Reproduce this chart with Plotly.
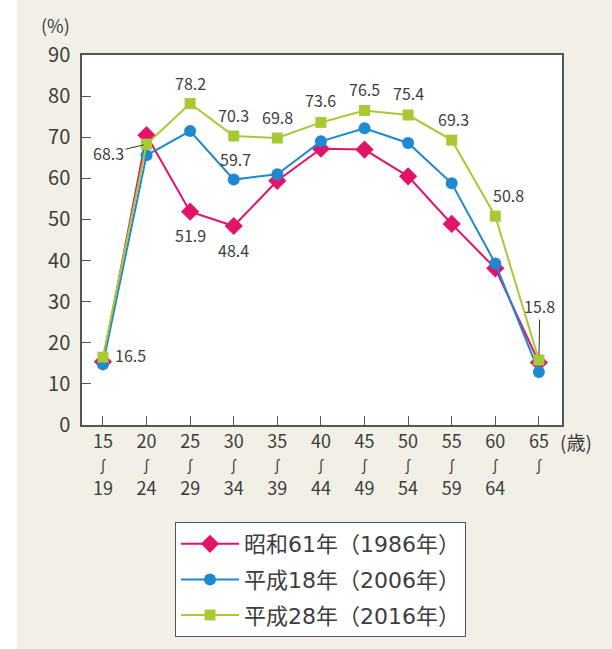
import plotly.graph_objects as go

# Age groups (lower / upper bound) and participation rates (%)
age_low = ["15", "20", "25", "30", "35", "40", "45", "50", "55", "60", "65"]
age_high = ["19", "24", "29", "34", "39", "44", "49", "54", "59", "64", ""]

s1986 = [15.4, 70.5, 51.9, 48.4, 59.4, 67.2, 67.0, 60.5, 48.9, 38.1, 15.2]
s2006 = [14.8, 65.6, 71.5, 59.7, 61.0, 69.0, 72.2, 68.6, 58.8, 39.3, 12.9]
s2016 = [16.5, 68.3, 78.2, 70.3, 69.8, 73.6, 76.5, 75.4, 69.3, 50.8, 15.8]

names = ["昭和61年（1986年）", "平成18年（2006年）", "平成28年（2016年）"]
y_ticks = [0, 10, 20, 30, 40, 50, 60, 70, 80, 90]

FONT = "Noto Sans CJK JP"
LEGEND_FONT = "DejaVu Sans, Noto Sans CJK JP"
TXT = "#3d3d3d"
BG = "#f2f0e6"

xs = list(range(len(age_low)))
wave = "<span style='font-size:15px'>∫</span>"
ticktext = [f"{a}<br>{wave}<br>{b if b else ' '}" for a, b in zip(age_low, age_high)]

fig = go.Figure()
series = [
    (s1986, "#e2146a", "diamond", 14),
    (s2006, "#1f88d0", "circle", 12),
    (s2016, "#a9c934", "square", 11),
]
for i, (vals, col, sym, size) in enumerate(series):
    fig.add_trace(go.Scatter(
        x=xs, y=vals, name=names[i], mode="lines+markers",
        line=dict(color=col, width=2),
        marker=dict(symbol=sym, size=size, color=col),
        legendgroup=f"g{i}", cliponaxis=False,
    ))

# Value labels: (series values, index, dx, dy) in pixels
labels = [
    (s2016, 2, 0, 21), (s2016, 3, 0, 21), (s2016, 4, 0, 21), (s2016, 5, 0, 22),
    (s2016, 6, 0, 22), (s2016, 7, 0, 22), (s2016, 8, 2, 21), (s2016, 9, 13, 21),
    (s2016, 0, 28, 2), (s1986, 2, 0, -23), (s1986, 3, 0, -24), (s2006, 3, 2, 21),
]
for vals, idx, dx, dy in labels:
    fig.add_annotation(x=idx, y=vals[idx], text=f"{vals[idx]:.1f}", showarrow=False,
                       xshift=dx, yshift=dy, font=dict(family=FONT, size=16, color=TXT))

# Labels with leader lines
fig.add_annotation(x=1, y=s2016[1], text=f"{s2016[1]:.1f}", showarrow=True,
                   arrowhead=0, arrowwidth=1, arrowcolor="#333", ax=-38, ay=9,
                   standoff=3, font=dict(family=FONT, size=16, color=TXT))
fig.add_annotation(x=10, y=s2016[10], text=f"{s2016[10]:.1f}", showarrow=True,
                   arrowhead=0, arrowwidth=1, arrowcolor="#333", ax=1, ay=-54,
                   standoff=6, font=dict(family=FONT, size=16, color=TXT))

# Axis unit labels
fig.add_annotation(xref="paper", yref="paper", x=(55 - 82) / 480, y=(425 - 25) / 370,
                   xanchor="center", yanchor="middle", text="(%)",
                   showarrow=False, font=dict(family=FONT, size=18, color=TXT))
fig.add_annotation(xref="paper", yref="paper", x=(576 - 82) / 480, y=(425 - 441) / 370,
                   xanchor="center", yanchor="middle", text="(歳)",
                   showarrow=False, font=dict(family=FONT, size=19, color=TXT))

# White strip on the left edge of the page
fig.add_shape(type="rect", xref="paper", yref="paper", x0=-82 / 480, x1=-65 / 480,
              y0=-224 / 370, y1=1 + 55 / 370, fillcolor="white", line_width=0, layer="below")

fig.update_layout(
    width=612, height=649,
    margin=dict(l=82, r=50, t=55, b=224),
    paper_bgcolor=BG, plot_bgcolor="white",
    font=dict(family=FONT, color=TXT),
    showlegend=True,
    legend=dict(x=(175 - 82) / 480, y=(425 - 522) / 370, xanchor="left", yanchor="top",
                bgcolor="white", bordercolor="#555", borderwidth=1,
                font=dict(family=LEGEND_FONT, size=22, color=TXT),
                itemwidth=58, traceorder="grouped", tracegroupgap=4),
    xaxis=dict(range=[-0.48, 10.53], tickvals=xs, ticktext=ticktext,
               showgrid=False, zeroline=False, showline=True, linecolor="#555",
               linewidth=1.5, mirror=True, ticks="inside", ticklen=9, tickcolor="#555",
               tickfont=dict(family=FONT, size=18, color=TXT)),
    yaxis=dict(range=[0, 90], tickvals=y_ticks, showgrid=False, zeroline=False,
               showline=True, linecolor="#555", linewidth=1.5, mirror=True,
               ticks="inside", ticklen=9, tickcolor="#555", ticklabelstandoff=6,
               tickfont=dict(family=FONT, size=20, color=TXT)),
)

fig.write_html("out.html")
